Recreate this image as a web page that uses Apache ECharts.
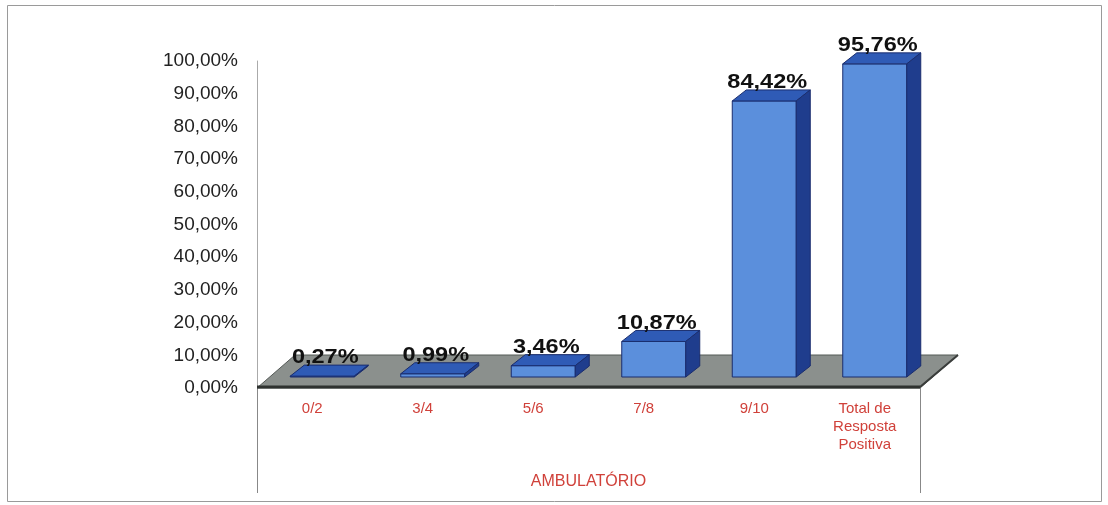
<!DOCTYPE html>
<html>
<head>
<meta charset="utf-8">
<script src="https://cdn.jsdelivr.net/npm/echarts@6/dist/echarts.min.js"></script>
<style>
html,body{margin:0;padding:0;background:#fff;}
#chart{width:1108px;height:505px;}
</style>
</head>
<body>
<div id="chart"></div>
<script>
const categories = ['0/2', '3/4', '5/6', '7/8', '9/10', 'Total de\nResposta\nPositiva'];
const values = [0.27, 0.99, 3.46, 10.87, 84.42, 95.76];
const groupLabel = 'AMBULATÓRIO';
const yMin = 0, yMax = 100, yStep = 10;

const fmt = v => v.toFixed(2).replace('.', ',') + '%';

const BAR_W = 64;          // front face width
const OFF_X = 10, OFF_Y = -11; // bar position inside the floor depth
const DEP_X = 14, DEP_Y = -11; // bar depth
const FLOOR_X = 38, FLOOR_Y = -33;
const FONT = 'Liberation Sans, Arial, sans-serif';

const chart = echarts.init(document.getElementById('chart'), null, {renderer: 'canvas'});

const option = {
  backgroundColor: '#ffffff',
  animation: false,
  grid: {left: 257, right: 188, top: 61, bottom: 117, containLabel: false},
  xAxis: {
    type: 'category',
    data: categories,
    axisLine: {show: false},
    axisTick: {show: false},
    axisLabel: {
      color: '#d0413a', fontSize: 15, fontFamily: FONT,
      lineHeight: 18, margin: 12, interval: 0
    },
    name: groupLabel,
    nameLocation: 'middle',
    nameGap: 86,
    nameTextStyle: {color: '#d0413a', fontSize: 16, fontFamily: FONT}
  },
  yAxis: {
    type: 'value',
    min: yMin, max: yMax, interval: yStep,
    axisLine: {show: true, lineStyle: {color: '#aaaaaa', width: 1}},
    axisTick: {show: false},
    splitLine: {show: false},
    axisLabel: {
      formatter: v => fmt(v), color: '#222222', fontSize: 19, margin: 19,
      fontFamily: FONT
    }
  },
  graphic: [
    {type: 'rect', shape: {x: 7.5, y: 5.5, width: 1094, height: 496}, style: {fill: 'none', stroke: '#9a9a9a', lineWidth: 1}, z: -10},
    {type: 'line', shape: {x1: 257.5, y1: 388, x2: 257.5, y2: 493}, style: {stroke: '#888', lineWidth: 1}},
    {type: 'line', shape: {x1: 920.5, y1: 388, x2: 920.5, y2: 493}, style: {stroke: '#888', lineWidth: 1}}
  ],
  series: [
    {
      type: 'custom',
      name: 'floor',
      data: [[0, 0]],
      silent: true,
      z: 1,
      renderItem: function (params, api) {
        const cs = params.coordSys;
        const fy = cs.y + cs.height;
        const x0 = cs.x, x1 = cs.x + cs.width;
        return {
          type: 'group',
          children: [
            {type: 'polygon', shape: {points: [[x0, fy], [x1, fy], [x1 + FLOOR_X, fy + FLOOR_Y], [x0 + FLOOR_X, fy + FLOOR_Y]]},
             style: {fill: '#8b908d', stroke: '#555a57', lineWidth: 1}},
            {type: 'line', shape: {x1: x0, y1: fy - 1, x2: x1, y2: fy - 1}, style: {stroke: '#2f3230', lineWidth: 3}},
            {type: 'line', shape: {x1: x1, y1: fy - 1, x2: x1 + FLOOR_X, y2: fy + FLOOR_Y}, style: {stroke: '#3a3d3b', lineWidth: 2}}
          ]
        };
      }
    },
    {
      type: 'custom',
      name: 'bars',
      data: values.map((v, i) => [i, v]),
      z: 2,
      renderItem: function (params, api) {
        const i = api.value(0), v = api.value(1);
        const top = api.coord([i, v]);
        const base = api.coord([i, 0]);
        const cx = top[0] + OFF_X;
        const xl = cx - BAR_W / 2, xr = cx + BAR_W / 2;
        const yt = top[1] + OFF_Y, yb = base[1] + OFF_Y;
        const stroke = '#1a2d6e';
        const lx = cx + 3, ly = yt + DEP_Y + 3;
        return {
          type: 'group',
          children: [
            {type: 'rect', shape: {x: xl, y: yt, width: BAR_W, height: Math.max(yb - yt, 0.5)},
             style: {fill: '#5b8fdc', stroke: stroke, lineWidth: 1}},
            {type: 'polygon', shape: {points: [[xl, yt], [xr, yt], [xr + DEP_X, yt + DEP_Y], [xl + DEP_X, yt + DEP_Y]]},
             style: {fill: '#2f5bb6', stroke: stroke, lineWidth: 1}},
            {type: 'polygon', shape: {points: [[xr, yt], [xr + DEP_X, yt + DEP_Y], [xr + DEP_X, yb + DEP_Y], [xr, yb]]},
             style: {fill: '#1f3d8d', stroke: stroke, lineWidth: 1}},
            {type: 'text', x: lx, y: ly, scaleX: 1.12, z2: 10,
             style: {text: fmt(v), x: 0, y: 0, align: 'center', verticalAlign: 'bottom',
              fill: '#111111', fontSize: 21, fontWeight: 'bold', fontFamily: FONT}}
          ]
        };
      }
    }
  ]
};
chart.setOption(option);
</script>
</body>
</html>
